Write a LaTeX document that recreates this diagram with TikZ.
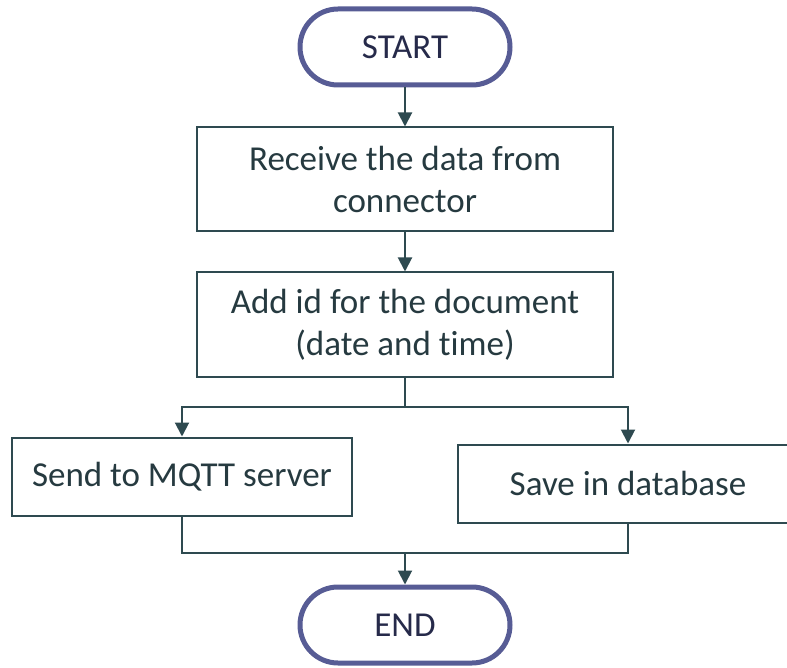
\documentclass[tikz,border=0pt]{standalone}
\usepackage{fontspec}
\setmainfont[Ligatures=NoCommon]{Carlito}
\usepackage{xcolor}
\usepackage{tikz}
\usetikzlibrary{arrows.meta,positioning,calc}
\definecolor{ovalblue}{HTML}{575C95}
\definecolor{ovaltext}{HTML}{262A4A}
\definecolor{slate}{HTML}{2E4A50}
\definecolor{ink}{HTML}{263A40}
\tikzset{
    every picture/.style={line join=miter},
    terminal/.style={draw=ovalblue,fill=white,line width=2.5pt,rounded corners=19pt,
      minimum width=105pt,minimum height=38pt,inner sep=2pt,
      text=ovaltext,font=\fontsize{17.5}{21}\selectfont},
    procbox/.style={draw=slate,fill=white,line width=1pt,
      minimum width=208pt,minimum height=52pt,inner sep=3pt,
      text=ink,align=center,font=\fontsize{17.5}{21}\selectfont},
    sidebox/.style={procbox,minimum width=170pt,minimum height=39pt},
    flowline/.style={draw=slate,line width=1pt},
    flowarrow/.style={flowline,-{Triangle[length=7pt,width=7pt]}}
}
\begin{document}
\begin{tikzpicture}[node distance=19.5pt]
  \clip (0,0) rectangle (393.5pt,-334pt);
  \useasboundingbox (0,0) rectangle (393.5pt,-334pt);
  \node[terminal] (start) at (202.5pt,-23.5pt) {START};
  \node[procbox,below=of start] (recv) {Receive the data from\\connector};
  \node[procbox,below=of recv] (addid) {Add id for the document\\(date and time)};
  \node[sidebox,below=29.5pt of addid,xshift=-111.5pt] (mqtt) {Send to MQTT server};
  \node[sidebox,below=33pt of addid,xshift=111.5pt] (db) {Save in database};
  \node[terminal,below=103.5pt of addid] (stop) {END};
  \coordinate (split) at ($(addid.south)+(0,-14.5pt)$);
  \coordinate (merge) at ($(stop.north)+(0,16pt)$);
  \draw[flowarrow] (start) -- (recv);
  \draw[flowarrow] (recv) -- (addid);
  \draw[flowline] (addid) -- (split);
  \draw[flowarrow] (split) -| (mqtt.north);
  \draw[flowarrow] (split) -| (db.north);
  \draw[flowline] (mqtt.south) |- (merge) -| (db.south);
  \draw[flowarrow] (merge) -- (stop);
\end{tikzpicture}
\end{document}
